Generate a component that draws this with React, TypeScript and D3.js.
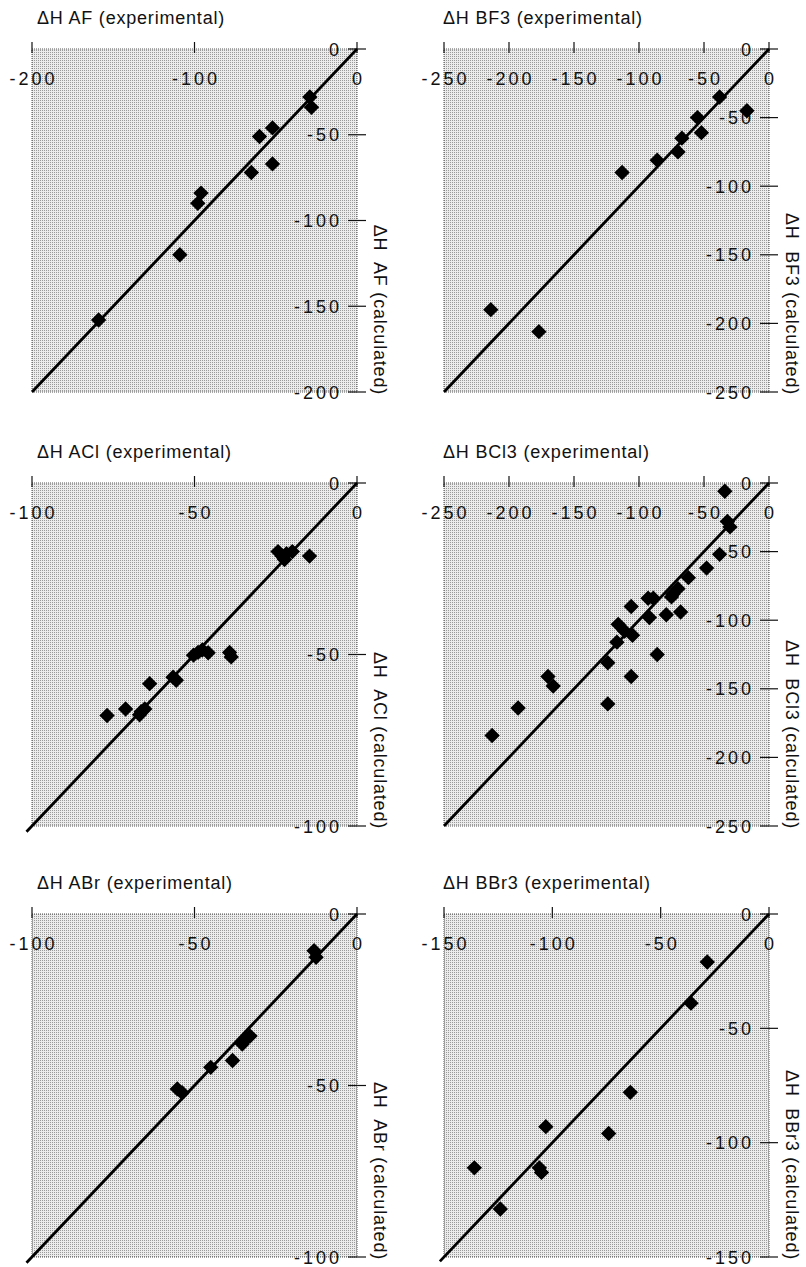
import React from "react";
import * as d3 from "d3";

// experimental (x) vs calculated (y) enthalpies
const afExp = [-29, -28, -52, -60, -52, -65, -96, -98, -109, -159];
const afCalc = [-28, -34, -46, -51, -67, -72, -84, -90, -120, -158];

const bf3Exp = [-38, -17, -55, -52, -67, -70, -86, -113, -214, -177];
const bf3Calc = [-35, -45, -50, -61, -65, -75, -81, -90, -190, -206];

const aclExp = [-24.3, -23, -21.7, -19.9, -22.3, -14.6, -50.3, -48.9, -47.6, -45.8, -39.2, -38.7, -56.6, -55.6, -63.8, -66.4, -65.3, -66.9, -71.2, -76.9];
const aclCalc = [-20, -21.3, -20.6, -20, -22.3, -21.3, -50.2, -49.4, -48.7, -49.5, -49.4, -50.7, -56.6, -57.5, -58.5, -66.7, -65.9, -67.6, -65.9, -67.8];

const bcl3Exp = [-34, -32, -30, -38, -48, -62, -70, -74, -75, -89, -93, -106, -68, -79, -92, -116, -111, -105, -117, -86, -124, -106, -170, -166, -124, -193, -213];
const bcl3Calc = [-6, -28, -32, -52, -62, -69, -77, -81, -83, -84, -84, -90, -94, -96, -98, -103, -108, -111, -116, -125, -131, -141, -141, -148, -161, -164, -184];

const abrExp = [-13.2, -12.6, -34.2, -35.3, -32.9, -38.3, -45, -55.3, -53.8];
const abrCalc = [-10.7, -12.6, -36.4, -37.9, -35.6, -42.7, -44.7, -51, -52.1];

const bbr3Exp = [-28.5, -36, -64, -103, -74, -136, -106, -105, -124];
const bbr3Calc = [-21, -39, -78, -93, -96, -111, -111, -113, -129];

const ticks250 = [-250, -200, -150, -100, -50, 0];
const ticks200x = [-200, -100, 0];
const ticks200y = [0, -50, -100, -150, -200];
const ticks100 = [-100, -50, 0];
const ticks150 = [-150, -100, -50, 0];

const FONT = "'Liberation Sans', Arial, Helvetica, sans-serif";
const W = 325;
const H = 343;
const colX = [32, 444];
const rowY = [49, 483, 914];

const panels = [
  { name: "AF", xs: afExp, ys: afCalc, min: -200, xTicks: ticks200x, yTicks: ticks200y, col: 0, row: 0, tail: 0 },
  { name: "BF3", xs: bf3Exp, ys: bf3Calc, min: -250, xTicks: ticks250, yTicks: ticks250, col: 1, row: 0, tail: 0 },
  { name: "ACl", xs: aclExp, ys: aclCalc, min: -100, xTicks: ticks100, yTicks: ticks100, col: 0, row: 1, tail: 8 },
  { name: "BCl3", xs: bcl3Exp, ys: bcl3Calc, min: -250, xTicks: ticks250, yTicks: ticks250, col: 1, row: 1, tail: 0 },
  { name: "ABr", xs: abrExp, ys: abrCalc, min: -100, xTicks: ticks100, yTicks: ticks100, col: 0, row: 2, tail: 8 },
  { name: "BBr3", xs: bbr3Exp, ys: bbr3Calc, min: -150, xTicks: ticks150, yTicks: ticks150, col: 1, row: 2, tail: 6 },
];

const diamond = d3.symbol(d3.symbolSquare, 118)();

const Panel = ({ p }: { p: any }) => {
  const left = colX[p.col];
  const top = rowY[p.row];
  const x = d3.scaleLinear().domain([p.min, 0]).range([left, left + W]);
  const y = d3.scaleLinear().domain([0, p.min]).range([top, top + H]);

  // y = x line, optionally running a little past the lower-left corner
  const x0 = x(0), y0 = y(0), x1 = x(p.min), y1 = y(p.min);
  const len = Math.hypot(x1 - x0, y1 - y0);
  const ex = x1 + ((x1 - x0) / len) * p.tail;
  const ey = y1 + ((y1 - y0) / len) * p.tail;
  const line = d3.line()([[x0, y0], [ex, ey]]);

  const right = left + W;
  const titleX = p.col === 0 ? left + 5 : left - 1;

  return (
    <g>
      <rect x={left} y={top} width={W} height={H} fill="url(#stipple)" stroke="#555" strokeWidth={1} strokeDasharray="1 1" />
      <text x={titleX} y={top - 25} fontSize={18} letterSpacing={0.8} fontFamily={FONT} fill="#111">
        {`ΔH ${p.name} (experimental)`}
      </text>
      {p.xTicks.map((t: number) => (
        <g key={"x" + t}>
          <line x1={x(t)} x2={x(t)} y1={top - 7} y2={top + 4} stroke="#111" strokeWidth={1.2} />
          <text x={x(t) + 1.5} y={top + 36} textAnchor="middle" fontSize={18} letterSpacing={3} fontFamily={FONT} fill="#111">
            {t}
          </text>
        </g>
      ))}
      {p.yTicks.map((t: number) => (
        <g key={"y" + t}>
          <line x1={right - 9} x2={right + 9} y1={y(t)} y2={y(t)} stroke="#111" strokeWidth={1.2} />
          <text x={right - 15} y={y(t) + 6.5} textAnchor="end" fontSize={18} letterSpacing={3} fontFamily={FONT} fill="#111">
            {t}
          </text>
        </g>
      ))}
      <text
        transform={`translate(${right + 17},${top + H + 3}) rotate(90)`}
        textAnchor="end"
        fontSize={18}
        letterSpacing={0.8}
        fontFamily={FONT}
        fill="#111"
        style={{ whiteSpace: "pre" }}
      >
        {`ΔH  ${p.name} (calculated)`}
      </text>
      <path d={line || ""} stroke="#000" strokeWidth={2.8} fill="none" />
      {p.xs.map((v: number, i: number) => (
        <path key={i} d={diamond || ""} transform={`translate(${x(v)},${y(p.ys[i])}) rotate(45)`} fill="#000" />
      ))}
    </g>
  );
};

export default function App() {
  return (
    <svg
      width={806}
      height={1267}
      style={{ position: "absolute", left: 0, top: 0, background: "#fff" }}
    >
      <defs>
        <pattern id="stipple" width="2" height="2" patternUnits="userSpaceOnUse">
          <rect width="2" height="2" fill="#ececec" />
          <rect width="1" height="1" fill="#9a9a9a" />
        </pattern>
      </defs>
      {panels.map((p) => (
        <Panel key={p.name} p={p} />
      ))}
    </svg>
  );
}
